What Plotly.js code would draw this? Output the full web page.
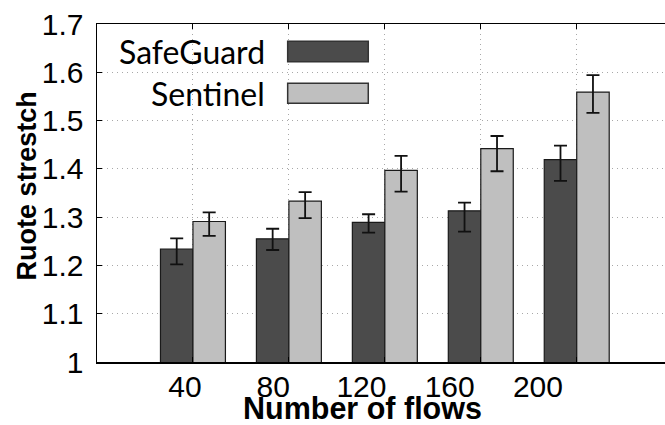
<!DOCTYPE html>
<html>
<head>
<meta charset="utf-8">
<script src="https://cdn.plot.ly/plotly-3.0.1.min.js"></script>
<style>html,body{margin:0;padding:0;background:#fff;}#chart{width:665px;height:425px;}</style>
</head>
<body>
<div id="chart"></div>
<script>
const categories = ["40", "80", "120", "160", "200"];
const safeguard = [1.234, 1.255, 1.289, 1.313, 1.419];
const safeguardErrPlus = [0.022, 0.021, 0.017, 0.017, 0.029];
const safeguardErrMinus = [0.032, 0.023, 0.021, 0.043, 0.044];
const sentinel = [1.291, 1.333, 1.397, 1.442, 1.559];
const sentinelErrPlus = [0.019, 0.019, 0.030, 0.026, 0.035];
const sentinelErrMinus = [0.030, 0.035, 0.044, 0.047, 0.043];
const seriesNames = ["SafeGuard", "Sentinel"];
const seriesColors = ["#4b4b4b", "#bfbfbf"];
const yTicks = [1, 1.1, 1.2, 1.3, 1.4, 1.5, 1.6, 1.7];

const idx = categories.map((_, i) => i);
const tickFont = {family: "Liberation Sans, Arial, sans-serif", size: 30, color: "#000"};
const xTitleFont = {family: "Liberation Sans, Arial, sans-serif", size: 30.5, color: "#000"};
const yTitleFont = {family: "Liberation Sans, Arial, sans-serif", size: 27, color: "#000"};
const legFont = {family: "Lato, sans-serif", size: 32, color: "#000"};

function barTrace(name, vals, plus, minus, color) {
  return {
    type: "bar", name: name, x: idx, y: vals,
    marker: {color: color, line: {color: "#1a1a1a", width: 1.2}},
    error_y: {type: "data", symmetric: false, array: plus, arrayminus: minus,
              color: "#111", thickness: 1.8, width: 6.5},
    showlegend: false, hoverinfo: "skip"
  };
}

const data = [
  barTrace(seriesNames[0], safeguard, safeguardErrPlus, safeguardErrMinus, seriesColors[0]),
  barTrace(seriesNames[1], sentinel, sentinelErrPlus, sentinelErrMinus, seriesColors[1]),
  {type: "scatter", x: idx, y: idx.map(() => null), xaxis: "x2", yaxis: "y",
   mode: "markers", showlegend: false, hoverinfo: "skip"}
];

const legendY = [[0.8886, 0.9489], [0.7656, 0.8247]];
const shapes = [
  {type: "rect", xref: "paper", yref: "paper", x0: 0.004, x1: 0.495, y0: 0.745, y1: 0.985,
   fillcolor: "#fff", line: {width: 0}, layer: "between"}
];
const annotations = [];
seriesNames.forEach((n, i) => {
  shapes.push({type: "rect", xref: "paper", yref: "paper", x0: 0.3357, x1: 0.4776,
    y0: legendY[i][0], y1: legendY[i][1], fillcolor: seriesColors[i],
    line: {color: "#333", width: 1.5}, layer: "above"});
  annotations.push({xref: "paper", yref: "paper", x: 0.300, y: (legendY[i][0] + legendY[i][1]) / 2,
    xanchor: "right", yanchor: "middle", text: n, showarrow: false, font: legFont});
});
annotations.push({xref: "paper", yref: "paper", x: 0.468, y: -0.137, xanchor: "center", yanchor: "middle",
  text: "<b>Number of flows</b>", showarrow: false, font: xTitleFont});
annotations.push({xref: "paper", yref: "paper", x: -0.123, y: 0.52, xanchor: "center", yanchor: "middle",
  text: "<b>Ruote strestch</b>", textangle: -90, showarrow: false, font: yTitleFont});

const gridStyle = {showgrid: true, gridcolor: "#a8a8a8", griddash: "1px,4px", gridwidth: 1};

const layout = {
  width: 665, height: 425,
  margin: {l: 97, r: 0, t: 24, b: 63},
  paper_bgcolor: "#fff", plot_bgcolor: "#fff",
  barmode: "group", bargap: 0.323, bargroupgap: 0,
  showlegend: false,
  xaxis: Object.assign({
    type: "linear", range: [-1, 4.92], tickvals: idx, showticklabels: false,
    ticks: "inside", ticklen: 5, tickcolor: "#000", tickwidth: 1,
    showline: true, linecolor: "#000", linewidth: 1.5, mirror: "ticks", zeroline: false
  }, gridStyle),
  xaxis2: {
    type: "linear", overlaying: "x", side: "bottom", anchor: "y",
    range: [-0.997, 5.44], tickvals: idx, ticktext: categories,
    ticks: "", showline: false, showgrid: false, zeroline: false,
    tickfont: tickFont, ticklabelstandoff: 4
  },
  yaxis: Object.assign({
    range: [1, 1.7], tickvals: yTicks, tickfont: tickFont,
    ticks: "inside", ticklen: 5, tickcolor: "#000", tickwidth: 1,
    showline: true, linecolor: "#000", linewidth: 1.5, mirror: false, zeroline: false,
    ticklabelstandoff: 6
  }, gridStyle),
  shapes: shapes,
  annotations: annotations
};

Plotly.newPlot("chart", data, layout, {displayModeBar: false, staticPlot: true});
</script>
</body>
</html>
